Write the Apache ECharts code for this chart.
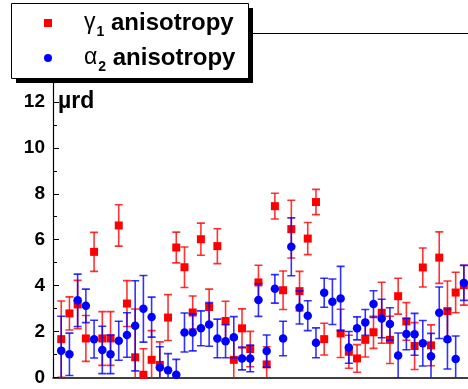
<!DOCTYPE html>
<html>
<head>
<meta charset="utf-8">
<script src="https://cdn.jsdelivr.net/npm/echarts@6/dist/echarts.min.js"></script>
<style>
html,body{margin:0;padding:0;background:#fff;}
#chart{width:468px;height:389px;}
</style>
</head>
<body>
<div id="chart"></div>
<script>
// ---- data ----
var seriesNames = ['γ1 anisotropy', 'α2 anisotropy'];
var yTicks = [0, 2, 4, 6, 8, 10, 12];
var unitLabel = 'µrd';

var gammaValues = [1.67, 2.79, 3.18, 1.70, 5.47, 1.70, 1.70, 6.62, 3.22, 0.88,
                   0.12, 0.77, 0.55, 2.61, 5.66, 4.80, 2.83, 6.02, 3.07, 5.72,
                   2.46, 0.77, 2.14, 1.24, 4.14, 0.57, 7.46, 3.80, 6.46, 3.76,
                   6.05, 7.64, 1.67, null, 1.92, 1.12, 0.83, 1.64, 1.97, 2.82,
                   1.64, 3.54, 2.44, 1.37, 4.79, 1.40, 5.22, 2.89, 3.70, 4.02];
var gammaErrors = [1.66, 0.72, 1.05, 1.00, 0.85, 1.17, 1.17, 0.90, 1.00, 2.10,
                   1.13, 1.27, 1.00, 1.00, 0.67, 0.88, 0.72, 0.70, 0.78, 0.76,
                   0.86, 0.90, 0.85, 0.77, 0.75, 0.77, 0.56, 0.84, 1.26, 0.86,
                   0.70, 0.55, 0.69, null, 1.05, 0.72, 0.60, 0.75, 0.70, 1.33,
                   1.03, 0.78, 0.82, 1.02, 0.85, 0.89, 1.12, 1.31, 0.88, 0.87];
var alphaValues = [1.17, 1.01, 3.36, 3.12, 1.67, 1.20, 1.01, 1.60, 1.85, 2.25,
                   2.99, 2.63, 0.44, 0.32, 0.12, 1.96, 1.96, 2.14, 2.31, 1.70,
                   1.58, 1.75, 0.83, 0.83, 3.37, 1.15, 3.86, 1.70, 5.69, 3.05,
                   2.69, 1.51, 3.69, 3.30, 3.44, 1.31, 2.14, 2.40, 3.20, 2.57,
                   2.33, 0.96, 1.89, 1.88, 1.49, 0.92, 2.82, 1.67, 0.81, 4.12];
var alphaErrors = [1.50, 0.92, 1.14, 0.73, 0.82, 1.03, 0.84, 0.85, 0.97, 1.96,
                   1.45, 0.87, 0.90, 0.72, 0.67, 0.85, 0.80, 0.76, 0.95, 0.84,
                   0.72, 0.90, 0.50, 0.58, 0.71, 0.70, 0.62, 0.75, 1.26, 0.72,
                   0.65, 0.65, 0.63, 0.99, 1.40, 0.69, 0.50, 0.56, 0.58, 0.84,
                   0.71, 0.98, 0.68, 0.91, 0.99, 1.00, 1.12, 1.30, 1.00, 0.76];

// ---- build ----
function pts(vals, errs) {
  var out = [];
  for (var i = 0; i < vals.length; i++) {
    if (vals[i] == null) continue;
    out.push([i + 1, vals[i], errs[i]]);
  }
  return out;
}
var gammaData = pts(gammaValues, gammaErrors);
var alphaData = pts(alphaValues, alphaErrors);

var RED = '#ff0000', BLUE = '#0000ff';
var FONT = '"Liberation Sans", Arial, sans-serif';

function errorBar(color) {
  return function (params, api) {
    var x = api.value(0), v = api.value(1), e = api.value(2);
    var hi = api.coord([x, v + e]);
    var lo = api.coord([x, v - e]);
    var hw = 4;
    var st = { stroke: color, lineWidth: 1.6, opacity: 0.8 };
    return {
      type: 'group',
      children: [
        { type: 'line', shape: { x1: hi[0] - hw, y1: hi[1], x2: hi[0] + hw, y2: hi[1] }, style: st },
        { type: 'line', shape: { x1: hi[0], y1: hi[1], x2: lo[0], y2: lo[1] }, style: st },
        { type: 'line', shape: { x1: lo[0] - hw, y1: lo[1], x2: lo[0] + hw, y2: lo[1] }, style: st }
      ]
    };
  };
}

var chart = echarts.init(document.getElementById('chart'), null, { renderer: 'canvas' });
var option = {
  animation: false,
  backgroundColor: '#fff',
  textStyle: { fontFamily: FONT },
  grid: { left: 53, top: 33, right: 0, bottom: 11.5, containLabel: false },
  legend: {
    data: seriesNames,
    orient: 'vertical',
    left: 11, top: 3, z: 20,
    padding: [8, 8, 6, 33],
    itemGap: 7,
    itemWidth: 8, itemHeight: 8,
    backgroundColor: 'transparent',
    selectedMode: false,
    formatter: function (name) {
      if (name === seriesNames[0]) return '{g|γ}{s|1}{t| anisotropy}';
      return '{g|α}{s|2}{t| anisotropy}';
    },
    textStyle: {
      fontFamily: FONT,
      rich: {
        g: { fontSize: 23, fontWeight: 'normal', color: '#000', fontFamily: FONT, padding: [0, 0, 0, 27], lineHeight: 28 },
        s: { fontSize: 14, fontWeight: 'bold', color: '#000', fontFamily: FONT, padding: [18, 0, 0, 1] },
        t: { fontSize: 24, fontWeight: 'bold', color: '#000', fontFamily: FONT, lineHeight: 28 }
      }
    }
  },
  xAxis: [{
    type: 'value', min: 0, max: 50.5,
    axisLine: { show: true, lineStyle: { color: '#000', width: 1.5 } },
    axisTick: { show: false }, axisLabel: { show: false }, splitLine: { show: false }
  }, {
    type: 'value', min: 0, max: 50.5, position: 'top',
    axisLine: { show: true, lineStyle: { color: '#000', width: 1.2 } },
    axisTick: { show: false }, axisLabel: { show: false }, splitLine: { show: false }
  }],
  yAxis: {
    type: 'value', min: 0, max: 15, interval: 2,
    axisLine: { show: true, lineStyle: { color: '#000', width: 1.2 } },
    axisTick: { show: true, inside: true, length: 6, lineStyle: { color: '#000', width: 1 } },
    minorTick: { show: true, splitNumber: 2, length: 4, lineStyle: { color: '#000', width: 1 } },
    splitLine: { show: false },
    axisLabel: {
      margin: 8, color: '#000', fontSize: 19, fontWeight: 'bold', fontFamily: FONT,
      formatter: function (v) { return yTicks.indexOf(v) >= 0 ? String(v) : ''; }
    }
  },
  graphic: [
    { type: 'rect', left: 16, top: 8, z: 15, shape: { width: 237, height: 75 }, style: { fill: '#000' } },
    { type: 'rect', left: 11, top: 3, z: 16, shape: { width: 237, height: 75 }, style: { fill: '#fff', stroke: '#000', lineWidth: 1 } },
    { type: 'text', left: 58, top: 90, z: 10, style: { text: unitLabel, fill: '#000', font: 'bold 23px ' + FONT } }
  ],
  series: [
    { type: 'custom', name: 'gErr', renderItem: errorBar(RED), data: gammaData, clip: true, z: 2,
      encode: { x: 0, y: 1 }, silent: true },
    { type: 'scatter', name: seriesNames[0], data: gammaData, symbol: 'rect', symbolSize: 8,
      itemStyle: { color: RED, opacity: 1 }, z: 3, clip: true },
    { type: 'custom', name: 'aErr', renderItem: errorBar(BLUE), data: alphaData, clip: true, z: 4,
      encode: { x: 0, y: 1 }, silent: true },
    { type: 'scatter', name: seriesNames[1], data: alphaData, symbol: 'circle', symbolSize: 8.5,
      itemStyle: { color: BLUE, opacity: 1 }, z: 5, clip: true }
  ]
};
chart.setOption(option);
</script>
</body>
</html>
